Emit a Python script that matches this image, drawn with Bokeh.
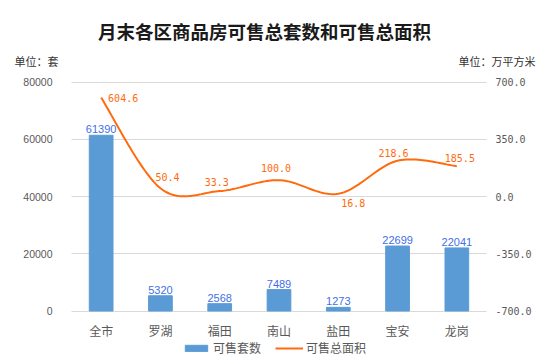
import numpy as np
from bokeh.plotting import figure
from bokeh.models import (Range1d, LinearAxis, FixedTicker, NumeralTickFormatter,
                          Label, Legend, LegendItem, ColumnDataSource)
from bokeh.core.properties import value
from bokeh.embed import file_html
from bokeh.resources import INLINE

# ---- data ----
categories = ["全市", "罗湖", "福田", "南山", "盐田", "宝安", "龙岗"]
units_sold = [61390, 5320, 2568, 7489, 1273, 22699, 22041]      # 可售套数 (套)
area_sold = [604.6, 50.4, 33.3, 100.0, 16.8, 218.6, 185.5]       # 可售总面积 (万平方米)
left_ticks = [0, 20000, 40000, 60000, 80000]
right_ticks = [-700, -350, 0, 350, 700]

title_text = "月末各区商品房可售总套数和可售总面积"
left_unit = "单位：套"
right_unit = "单位：万平方米"
series_names = ["可售套数", "可售总面积"]

# label offsets for line value labels (screen px, style only)
lbl_dx = [22, 7, -3, -3, 15, -4, 3]
lbl_dy = [0, -11, -9, -12, 9, -8, -8]

BAR = "#5B9BD5"
LINE = "#FF6A0D"
BAR_LBL = "#3F6FE6"
GREY = "#595959"
GRID = "#D9D9D9"

n = len(categories)
xpos = np.arange(n) + 0.5

# ---- layout geometry (pixels on the canvas) ----
W, H = 546, 359
GL, GR, GT, GB = 71.0, 486.0, 81.5, 310.5   # plot area: left, right, top, bottom

ppu = (GR - GL) / n                               # px per category
k_left = (left_ticks[-1] - left_ticks[0]) / (GB - GT)
k_right = (right_ticks[-1] - right_ticks[0]) / (GB - GT)
r_mid = (GT + GB) / 2.0


def dx(px):
    return (px - GL) / ppu


def dy(py):
    return (GB - py) * k_left


p = figure(width=W, height=H, output_backend="svg", toolbar_location=None,
           x_range=Range1d(dx(0), dx(W)), y_range=Range1d(dy(H), dy(0)),
           min_border_left=0, min_border_right=0, min_border_top=0, min_border_bottom=0)
p.outline_line_color = None
p.extra_y_ranges = {"right": Range1d((r_mid - H) * k_right, r_mid * k_right)}

# x axis (categories)
xa = p.xaxis[0]
xa.fixed_location = left_ticks[0]
xa.ticker = FixedTicker(ticks=list(xpos))
xa.major_label_overrides = {float(x): c for x, c in zip(xpos, categories)}
xa.major_label_text_font = "Noto Sans CJK SC"
xa.major_label_text_font_size = "12px"
xa.major_label_text_color = GREY
xa.major_tick_line_color = None
xa.minor_tick_line_color = None
xa.axis_line_color = None
xa.major_label_standoff = 5
p.xgrid.grid_line_color = None

# left axis
ya = p.yaxis[0]
ya.fixed_location = 0
ya.ticker = FixedTicker(ticks=left_ticks)
ya.formatter = NumeralTickFormatter(format="0")
ya.major_label_text_font = "Liberation Sans"
ya.major_label_text_font_size = "10.5px"
ya.major_label_text_color = GREY
ya.major_tick_line_color = None
ya.minor_tick_line_color = None
ya.axis_line_color = None
ya.major_label_standoff = 13

# right axis
ax_r = LinearAxis(y_range_name="right", ticker=FixedTicker(ticks=right_ticks),
                  formatter=NumeralTickFormatter(format="0.0"), fixed_location=n)
ax_r.major_label_text_font = "DejaVu Sans Mono"
ax_r.major_label_text_font_size = "10px"
ax_r.major_label_text_color = GREY
ax_r.major_tick_line_color = None
ax_r.minor_tick_line_color = None
ax_r.axis_line_color = None
ax_r.major_label_standoff = 3
p.add_layout(ax_r, "right")

# horizontal grid lines limited to the plot area
yg = p.ygrid[0]
yg.ticker = FixedTicker(ticks=left_ticks)
if "cross_bounds" in yg.properties():
    yg.cross_bounds = (0, n)
    yg.grid_line_color = GRID
    yg.grid_line_width = 1
else:
    yg.grid_line_color = None
    p.segment(x0=[0] * len(left_ticks), x1=[n] * len(left_ticks), y0=left_ticks,
              y1=left_ticks, line_color=GRID, line_width=1)

# bars
src = ColumnDataSource(dict(x=xpos, top=units_sold, lbl=[str(v) for v in units_sold]))
bars = p.vbar(x="x", top="top", bottom=0, width=0.4, source=src,
              fill_color=BAR, line_color=BAR)
p.text(x="x", y="top", text="lbl", source=src, text_align="center", text_baseline="bottom",
       y_offset=-2, text_font=value("Liberation Sans"), text_font_size="11px",
       text_color=BAR_LBL)

# smoothed line (cubic Bezier through the data points, Excel-like)
pts = np.column_stack([xpos, np.array(area_sold, dtype=float)])
cx, cy = [], []
t = np.linspace(0, 1, 30)
for i in range(n - 1):
    P0 = pts[max(i - 1, 0)]
    P1 = pts[i]
    P2 = pts[i + 1]
    P3 = pts[min(i + 2, n - 1)]
    C1 = P1 + (P2 - P0) / 6.0
    C2 = P2 - (P3 - P1) / 6.0
    tt = t if i == 0 else t[1:]
    b = ((1 - tt) ** 3)[:, None] * P1 + (3 * (1 - tt) ** 2 * tt)[:, None] * C1 \
        + (3 * (1 - tt) * tt ** 2)[:, None] * C2 + (tt ** 3)[:, None] * P2
    cx.extend(b[:, 0])
    cy.extend(b[:, 1])
line = p.line(cx, cy, y_range_name="right", line_color=LINE, line_width=2)

lsrc = ColumnDataSource(dict(x=xpos, y=area_sold, lbl=[f"{v:.1f}" for v in area_sold],
                             dx=lbl_dx, dy=lbl_dy))
p.text(x="x", y="y", text="lbl", source=lsrc, y_range_name="right", x_offset="dx",
       y_offset="dy", text_align="center", text_baseline="middle",
       text_font=value("DejaVu Sans Mono"), text_font_size="10px", text_color=LINE)

# title and unit captions
p.add_layout(Label(x=dx(264), y=dy(30), text=title_text, text_align="center",
                   text_baseline="middle", text_font="Noto Sans CJK SC",
                   text_font_size="18.5px", text_font_style="bold", text_color="#1a1a1a"))
p.add_layout(Label(x=dx(14), y=dy(60), text=left_unit, text_align="left",
                   text_baseline="middle", text_font="Noto Sans CJK SC",
                   text_font_size="11px", text_color="#333333"))
p.add_layout(Label(x=dx(535), y=dy(60), text=right_unit, text_align="right",
                   text_baseline="middle", text_font="Noto Sans CJK SC",
                   text_font_size="11px", text_color="#333333"))

legend = Legend(items=[LegendItem(label=series_names[0], renderers=[bars]),
                       LegendItem(label=series_names[1], renderers=[line])],
                location=(182, H - 356), orientation="horizontal",
                glyph_width=28, glyph_height=8, label_height=14, label_standoff=3,
                spacing=14, padding=0, margin=0, border_line_color=None,
                background_fill_alpha=0, label_text_font="Noto Sans CJK SC",
                label_text_font_size="12px", label_text_color=GREY)
p.add_layout(legend, "center")

open("out.html", "w").write(file_html(p, INLINE))
